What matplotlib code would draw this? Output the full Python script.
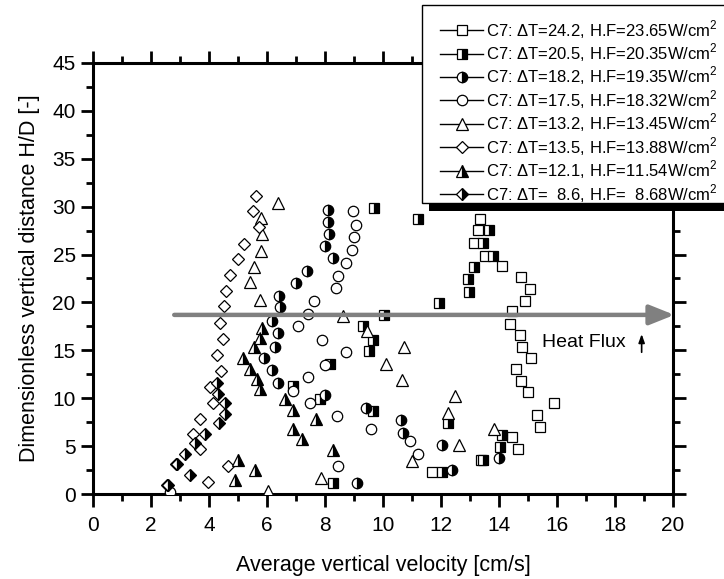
import matplotlib
matplotlib.use('Agg')
import matplotlib.pyplot as plt
from matplotlib.lines import Line2D
from matplotlib.patches import Rectangle
from matplotlib.transforms import IdentityTransform

plt.rcParams['font.family'] = 'Liberation Sans'
plt.rcParams['mathtext.fontset'] = 'custom'
plt.rcParams['mathtext.rm'] = 'Liberation Sans'

# dT=24.2 (open squares)
x_242 = [13.34, 13.29, 13.14, 13.52, 14.09, 14.75, 15.07, 14.9, 14.44, 14.38, 14.72, 14.8,
         15.09, 14.6, 14.75, 15.0, 15.9, 15.3, 15.4, 14.44, 14.67, 13.38, 11.68]
y_242 = [28.7, 27.6, 26.2, 24.9, 23.8, 22.7, 21.4, 20.2, 19.1, 17.8, 16.6, 15.4,
         14.2, 13.0, 11.8, 10.7, 9.5, 8.2, 7.0, 5.9, 4.7, 3.6, 2.3]
# dT=20.5 (half squares)
x_205 = [9.69, 11.2, 13.67, 13.46, 13.8, 13.14, 12.94, 12.97, 11.93, 10.03, 9.3, 9.64,
         9.53, 8.17, 6.88, 7.83, 9.64, 12.25, 14.11, 14.03, 13.44, 12.02, 8.29]
y_205 = [29.9, 28.7, 27.6, 26.2, 24.9, 23.7, 22.4, 21.1, 19.9, 18.7, 17.5, 16.1,
         14.9, 13.6, 11.3, 9.9, 8.7, 7.4, 6.2, 4.9, 3.6, 2.3, 1.1]
# dT=18.2 (half circles)
x_182 = [8.09, 8.09, 8.15, 8.0, 8.26, 7.39, 6.99, 6.42, 6.45, 6.18, 6.39, 6.28,
         5.9, 6.16, 6.39, 8.0, 9.43, 10.61, 10.7, 12.05, 14.01, 12.37, 9.11]
y_182 = [29.7, 28.4, 27.1, 25.9, 24.6, 23.3, 22.0, 20.7, 19.5, 18.1, 16.8, 15.4,
         14.2, 12.9, 11.6, 10.3, 9.0, 7.7, 6.4, 5.1, 3.8, 2.5, 1.2]
# dT=17.5 (open circles)
x_175 = [8.98, 9.07, 9.0, 8.94, 8.72, 8.46, 8.38, 7.62, 7.4, 7.08, 7.91, 8.74,
         8.0, 7.4, 6.9, 7.48, 8.43, 9.59, 10.93, 11.2, 8.44, 2.66]
y_175 = [29.5, 28.1, 26.8, 25.5, 24.1, 22.8, 21.5, 20.1, 18.8, 17.5, 16.1, 14.8,
         13.5, 12.2, 10.8, 9.5, 8.1, 6.8, 5.5, 4.2, 2.9, 0.2]
# dT=13.2 (open triangles)
x_132 = [6.37, 5.79, 5.84, 5.78, 5.55, 5.41, 5.76, 8.63, 9.46, 10.73, 10.1, 10.64,
         12.48, 12.25, 13.84, 12.63, 10.99, 7.85, 6.05]
y_132 = [30.4, 28.8, 27.1, 25.4, 23.7, 22.1, 20.3, 18.6, 17.0, 15.3, 13.6, 11.9,
         10.2, 8.5, 6.8, 5.1, 3.4, 1.7, 0.3]
# dT=13.5 (open diamonds)
x_135 = [5.61, 5.53, 5.73, 5.21, 5.01, 4.72, 4.59, 4.52, 4.38, 4.49, 4.26, 4.43,
         4.03, 4.15, 3.69, 3.46, 3.69, 2.86, 4.67, 3.95, 2.54]
y_135 = [31.1, 29.5, 27.9, 26.1, 24.5, 22.9, 21.2, 19.6, 17.9, 16.2, 14.5, 12.8,
         11.2, 9.5, 7.8, 6.3, 4.7, 3.1, 2.9, 1.3, 0.9]
# dT=12.1 (half triangles)
x_121 = [5.82, 5.76, 5.55, 5.18, 5.41, 5.64, 5.76, 6.62, 6.91, 7.69, 6.88, 7.22,
         8.29, 5.01, 5.59, 4.9]
y_121 = [17.3, 16.3, 15.3, 14.2, 13.1, 12.0, 11.0, 9.9, 8.8, 7.8, 6.8, 5.7,
         4.6, 3.5, 2.5, 1.5]
# dT=8.6 (half diamonds)
x_86 = [4.29, 4.32, 4.55, 4.55, 4.36, 3.86, 3.52, 3.17, 2.88, 3.34, 2.6]
y_86 = [11.6, 10.4, 9.5, 8.4, 7.4, 6.3, 5.3, 4.2, 3.1, 2.0, 0.9]

labels = [
    r'C7: $\Delta$T=24.2, H.F=23.65W/cm$^2$',
    r'C7: $\Delta$T=20.5, H.F=20.35W/cm$^2$',
    r'C7: $\Delta$T=18.2, H.F=19.35W/cm$^2$',
    r'C7: $\Delta$T=17.5, H.F=18.32W/cm$^2$',
    r'C7: $\Delta$T=13.2, H.F=13.45W/cm$^2$',
    r'C7: $\Delta$T=13.5, H.F=13.88W/cm$^2$',
    r'C7: $\Delta$T=12.1, H.F=11.54W/cm$^2$',
    r'C7: $\Delta$T=  8.6, H.F=  8.68W/cm$^2$',
]

series = [(x_242, y_242), (x_205, y_205), (x_182, y_182), (x_175, y_175),
          (x_132, y_132), (x_135, y_135), (x_121, y_121), (x_86, y_86)]
markers = ['s', 's', 'o', 'o', '^', 'D', '^', 'D']
half = [False, True, True, False, False, False, True, True]
msizes = [7, 7, 7.5, 7.5, 8.5, 6.5, 8.5, 6.5]

fig = plt.figure(figsize=(7.24, 5.79), dpi=100)
ax = fig.add_axes((0.1285, 0.1468, 0.801, 0.7444))

handles = []
for (xs, ys), m, h, ms in zip(series, markers, half, msizes):
    style = dict(marker=m, markersize=ms, markeredgecolor='black', markeredgewidth=0.9)
    if h:
        style.update(fillstyle='right', markerfacecolor='black', markerfacecoloralt='white')
    else:
        style.update(markerfacecolor='white')
    ax.plot(xs, ys, linestyle='none', zorder=3, **style)
    handles.append(Line2D([], [], color='black', lw=1, **style))

# heat flux arrow
ax.annotate('', xy=(20.05, 18.7), xytext=(2.8, 18.7),
            arrowprops=dict(arrowstyle='-|>,head_length=1.5,head_width=0.6',
                            color='#808080', lw=3.2, shrinkA=0, shrinkB=0,
                            capstyle='round'), zorder=4, annotation_clip=False)
ax.text(15.5, 15.8, 'Heat Flux', fontsize=14, va='center', ha='left')
ax.annotate('', xy=(18.92, 16.7), xytext=(18.92, 14.8),
            arrowprops=dict(arrowstyle='-|>,head_length=0.5,head_width=0.18',
                            color='black', lw=1.2, shrinkA=0, shrinkB=0))

ax.set_xlim(0, 20)
ax.set_ylim(0, 45)
ax.set_xticks(range(0, 21, 2))
ax.set_xticks(range(1, 20, 2), minor=True)
ax.set_yticks(range(0, 46, 5))
ax.set_yticks([2.5 + 5 * i for i in range(9)], minor=True)
ax.tick_params(which='both', direction='out', top=True, right=True, width=2,
               labelsize=15)
ax.tick_params(which='major', length=9)
ax.tick_params(which='minor', length=5)
ax.tick_params(axis='x', which='major', pad=7)
for sp in ax.spines.values():
    sp.set_linewidth(2.2)

ax.set_xlabel('Average vertical velocity [cm/s]', fontsize=15.5, labelpad=14)
ax.set_ylabel('Dimensionless vertical distance H/D [-]', fontsize=15.5, labelpad=9)

# legend box with solid black drop shadow, drawn by hand
box = Rectangle((422, 579 - 203), 330, 198, transform=IdentityTransform(),
                facecolor='white', edgecolor='black', lw=1.0, zorder=5)
shadow = Rectangle((429, 579 - 211), 330, 198, transform=IdentityTransform(),
                   facecolor='black', edgecolor='none', zorder=4.5)
fig.add_artist(shadow)
fig.add_artist(box)

leg = fig.legend(handles, labels, loc='upper left', bbox_to_anchor=(440 / 724, 1 - 18 / 579),
                 fontsize=12, frameon=False, handlelength=2.6, handletextpad=0.15,
                 labelspacing=0.05, borderpad=0, borderaxespad=0)
leg.set_zorder(6)

fig.savefig('out.png', dpi=100)
